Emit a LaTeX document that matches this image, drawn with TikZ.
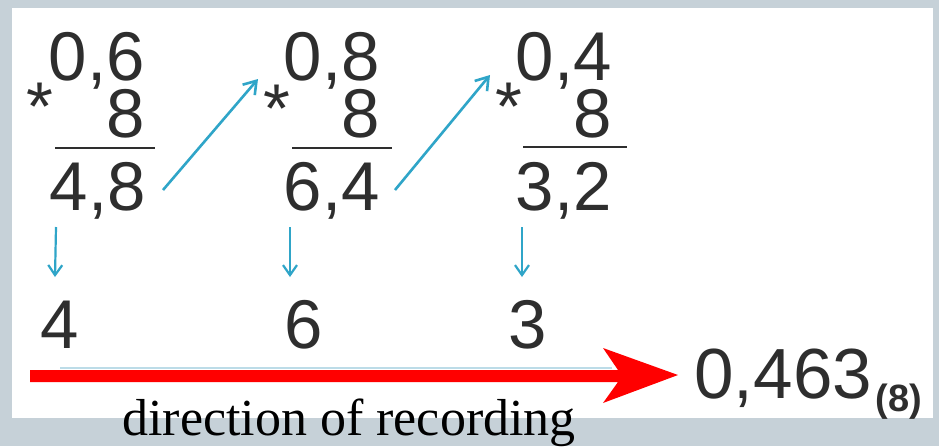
\documentclass[tikz,border=0pt]{standalone}
\usepackage{fontspec}
\setmainfont{Liberation Sans}
\newfontfamily\serifx{Liberation Serif}
\usetikzlibrary{arrows.meta}
\definecolor{bg}{HTML}{C6D1D8}
\definecolor{ink}{HTML}{2E2E2E}
\definecolor{cyanarr}{HTML}{2FA5C8}
\definecolor{faint}{HTML}{BCDCE8}
\definecolor{redarr}{HTML}{FF0000}
\begin{document}
\begin{tikzpicture}[x=0.5pt,y=-0.5pt,
  num/.style={inner sep=0pt, text height=0.73em, text depth=0.1em, font=\fontsize{34.5}{40}\selectfont, text=ink},
  resnum/.style={inner sep=0pt, font=\fontsize{35.5}{40}\selectfont, text=ink},
  subnum/.style={inner sep=0pt, font=\fontsize{19}{22}\selectfont\bfseries, text=ink},
  bar/.style={draw=ink, line width=1pt},
  diag/.style={draw=cyanarr, line width=1.3pt, -{Straight Barb[length=6pt,width=8pt]}},
  down/.style={draw=cyanarr, line width=1.1pt, -{Straight Barb[length=5pt,width=7pt]}},
  captext/.style={inner sep=0pt, font=\serifx\fontsize{26}{30}\selectfont, text=black}]
\useasboundingbox (0,0) rectangle (939,446);
\fill[bg] (0,0) rectangle (939,446);
\fill[white] (12,8) rectangle (933,418);

% column 1
\node[num, anchor=base east] (a1) at (145,80) {0,6};
\node[num, anchor=base east] (b1) at (145,137) {8};
\node[num, anchor=base west] (s1) at (26,130) {*};
\node[num, anchor=base east] (c1) at (146,210) {4,8};
\node[num, anchor=base west] (d1) at (40,348) {4};
% column 2
\node[num, anchor=base east] (a2) at (380,80) {0,8};
\node[num, anchor=base east] (b2) at (380,137) {8};
\node[num, anchor=base west] (s2) at (263,132) {*};
\node[num, anchor=base east] (c2) at (380,210) {6,4};
\node[num, anchor=base west] (d2) at (284,348) {6};
% column 3
\node[num, anchor=base east] (a3) at (612,80) {0,4};
\node[num, anchor=base east] (b3) at (612,137) {8};
\node[num, anchor=base west] (s3) at (495,130) {*};
\node[num, anchor=base east] (c3) at (612,210) {3,2};
\node[num, anchor=base west] (d3) at (508,348) {3};

% result
\node[resnum, anchor=base west] (res) at (694,398) {0,463};
\node[subnum, anchor=base west] (sub) at ([shift={(3,13)}]res.base east) {(8)};

% caption
\node[captext, anchor=base west] (capt) at (122,435) {direction of recording};

% fraction bars
\draw[bar] ([shift={(-91,-62)}]c1.base east) -- ([shift={(9,-62)}]c1.base east);
\draw[bar] ([shift={(-88,-62)}]c2.base east) -- ([shift={(12,-62)}]c2.base east);
\draw[bar] ([shift={(-89,-63)}]c3.base east) -- ([shift={(15,-63)}]c3.base east);

% diagonal arrows
\draw[diag] ([shift={(17,-20)}]c1.base east) -- ([shift={(-5,-53)}]s2.base west);
\draw[diag] ([shift={(15,-20)}]c2.base east) -- ([shift={(-5,-55)}]s3.base west);

% down arrows
\draw[down] ([shift={(-90,17)}]c1.base east) -- ([shift={(15,-71)}]d1.base west);
\draw[down] ([shift={(-90,17)}]c2.base east) -- ([shift={(6,-71)}]d2.base west);
\draw[down] ([shift={(-90,17)}]c3.base east) -- ([shift={(14,-71)}]d3.base west);

% faint line and red arrow
\draw[faint, line width=1pt] (60,368) -- (612,368);
\fill[redarr] (30,370) -- (618,370) -- (603,348) -- ([shift={(-16,-23)}]res.base west)
  -- (603,403) -- (618,382) -- (30,382) -- cycle;
\end{tikzpicture}
\end{document}
